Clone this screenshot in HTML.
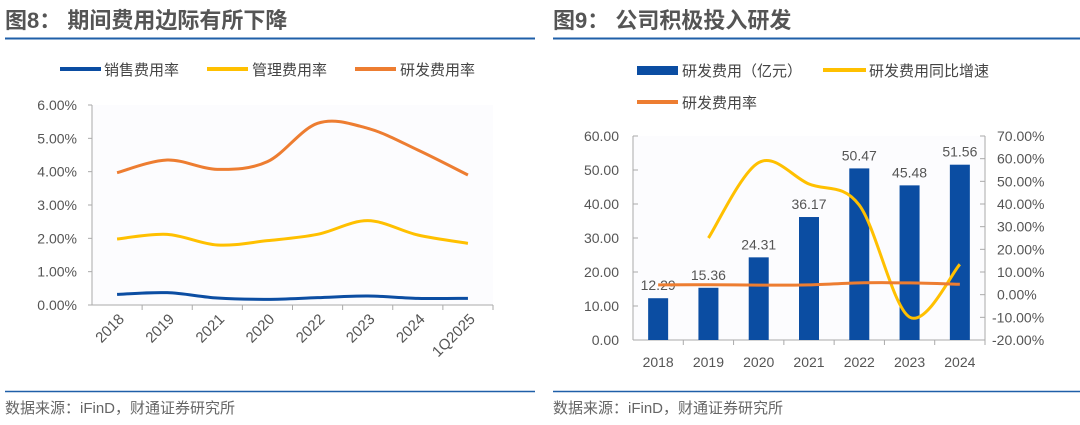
<!DOCTYPE html>
<html><head><meta charset="utf-8"><style>
body{margin:0;background:#fff;width:1080px;height:420px;overflow:hidden;font-family:"Liberation Sans","Noto Sans CJK SC",sans-serif}
svg text{font-family:"Liberation Sans","Noto Sans CJK SC",sans-serif}
</style></head><body>
<svg id="s" width="1080" height="420" xmlns="http://www.w3.org/2000/svg">
<text x="5" y="28" font-size="22" font-weight="bold" fill="#555">图8：  期间费用边际有所下降</text>
<line x1="5" y1="38.5" x2="535" y2="38.5" stroke="#1f5fa8" stroke-width="2"/>
<text x="553" y="28" font-size="22" font-weight="bold" fill="#555">图9：  公司积极投入研发</text>
<line x1="553" y1="38.5" x2="1080" y2="38.5" stroke="#1f5fa8" stroke-width="2"/>
<line x1="5" y1="391.5" x2="535" y2="391.5" stroke="#1f5fa8" stroke-width="1.5"/>
<line x1="553" y1="391.5" x2="1080" y2="391.5" stroke="#1f5fa8" stroke-width="1.5"/>
<text x="5" y="413" font-size="15" fill="#666">数据来源：iFinD，财通证券研究所</text>
<text x="553" y="413" font-size="15" fill="#666">数据来源：iFinD，财通证券研究所</text>
<g>
<line x1="60" y1="69" x2="101" y2="69" stroke="#0b4da2" stroke-width="4"/><text x="104" y="75" font-size="15" fill="#444">销售费用率</text>
<line x1="207" y1="69" x2="248" y2="69" stroke="#ffc000" stroke-width="4"/><text x="252" y="75" font-size="15" fill="#444">管理费用率</text>
<line x1="355" y1="69" x2="396" y2="69" stroke="#ed7d31" stroke-width="4"/><text x="400" y="75" font-size="15" fill="#444">研发费用率</text>
</g>
<g>
<rect x="637" y="66" width="41" height="9" fill="#0b4da2"/><text x="682" y="76" font-size="15" fill="#444">研发费用（亿元）</text>
<line x1="823" y1="70" x2="866" y2="70" stroke="#ffc000" stroke-width="4"/><text x="869" y="76" font-size="15" fill="#444">研发费用同比增速</text>
<line x1="637" y1="102" x2="678" y2="102" stroke="#ed7d31" stroke-width="4"/><text x="682" y="108" font-size="15" fill="#444">研发费用率</text>
</g>
<g id="L"></g><g id="R"></g>
</svg>
<script>
const lCats=["2018","2019","2021","2020","2022","2023","2024","1Q2025"];
const salesRate=[0.32,0.37,0.21,0.17,0.22,0.27,0.2,0.2];
const adminRate=[1.98,2.12,1.8,1.93,2.12,2.53,2.1,1.85];
const rdRate=[3.97,4.35,4.07,4.3,5.45,5.3,4.65,3.9];
const lTicks=[0,1,2,3,4,5,6];
const rCats=["2018","2019","2020","2021","2022","2023","2024"];
const rdExp=[12.29,15.36,24.31,36.17,50.47,45.48,51.56];
const rdGrowth=[null,25,58.3,48.8,39.5,-9.9,13.4];
const rdRate2=[4.3,4.4,4.2,4.3,5.2,5.2,4.6];
const rLeftTicks=[0,10,20,30,40,50,60];
const rRightTicks=[-20,-10,0,10,20,30,40,50,60,70];
const NS="http://www.w3.org/2000/svg";
function mk(p,t,a,txt){const e=document.createElementNS(NS,t);for(const k in a)e.setAttribute(k,a[k]);if(txt!=null)e.textContent=txt;p.appendChild(e);return e;}
function smooth(pts){let d=`M${pts[0][0]},${pts[0][1]}`;for(let i=0;i<pts.length-1;i++){const p0=pts[i-1]||pts[i],p1=pts[i],p2=pts[i+1],p3=pts[i+2]||p2;const t=1/6;d+=` C${p1[0]+(p2[0]-p0[0])*t},${p1[1]+(p2[1]-p0[1])*t} ${p2[0]-(p3[0]-p1[0])*t},${p2[1]-(p3[1]-p1[1])*t} ${p2[0]},${p2[1]}`;}return d;}
// left chart
const L=document.getElementById('L');
const lx0=92,lx1=493,ly0=305,ly1=105;
const lstep=(lx1-lx0)/lCats.length;
const lX=i=>lx0+lstep*(i+0.5);
const lY=v=>ly0-(v/6)*(ly0-ly1);
mk(L,'rect',{x:lx0,y:ly1,width:lx1-lx0,height:ly0-ly1,fill:'#fcfcfe'});
let e=mk(L,'line',{x1:lx0,y1:ly1,x2:lx0,y2:ly0,stroke:'#aaa'});


e=mk(L,'line',{x1:lx0,y1:ly0,x2:lx1,y2:ly0,stroke:'#aaa'});


lTicks.forEach(t=>{const y=lY(t);mk(L,'line',{x1:lx0-4,y1:y,x2:lx0,y2:y,stroke:'#aaa'});e=mk(L,'text',{x:lx0-15,y:y+5,'font-size':14,fill:'#555','text-anchor':'end'},t.toFixed(2)+'%');

});
lCats.forEach((c,i)=>{const tx=lx0+lstep*(i+1);mk(L,'line',{x1:tx,y1:ly0,x2:tx,y2:ly0+5,stroke:'#aaa'});const x=lX(i)+8,y=ly0+15;e=mk(L,'text',{x:x,y:y,'font-size':15,fill:'#555','text-anchor':'end',transform:`rotate(-45 ${x} ${y})`},c);

});
[[salesRate,'#0b4da2','sales-rate-line'],[adminRate,'#ffc000','admin-rate-line'],[rdRate,'#ed7d31','rd-rate-line']].forEach(([arr,col,n])=>{e=mk(L,'path',{d:smooth(arr.map((v,i)=>[lX(i),lY(v)])),fill:'none',stroke:col,'stroke-width':3});

});
// right chart
const R=document.getElementById('R');
const rx0=633,rx1=985,ry0=340,ry1=136;
const rstep=(rx1-rx0)/rCats.length;
const rX=i=>rx0+rstep*(i+0.5);
const rY=v=>ry0-(v/60)*(ry0-ry1);
const rY2=v=>ry0-((v+20)/90)*(ry0-ry1);
mk(R,'rect',{x:rx0,y:ry1,width:rx1-rx0,height:ry0-ry1,fill:'#fcfcfe'});
e=mk(R,'line',{x1:rx0,y1:ry1,x2:rx0,y2:ry0,stroke:'#aaa'});


e=mk(R,'line',{x1:rx1,y1:ry1,x2:rx1,y2:ry0,stroke:'#aaa'});


e=mk(R,'line',{x1:rx0,y1:ry0,x2:rx1,y2:ry0,stroke:'#aaa'});


rLeftTicks.forEach(t=>{const y=rY(t);mk(R,'line',{x1:rx0,y1:y,x2:rx0+5,y2:y,stroke:'#aaa'});e=mk(R,'text',{x:rx0-14,y:y+5,'font-size':14,fill:'#555','text-anchor':'end'},t.toFixed(2));

});
rRightTicks.forEach(t=>{const y=rY2(t);mk(R,'line',{x1:rx1-5,y1:y,x2:rx1,y2:y,stroke:'#aaa'});e=mk(R,'text',{x:t<0?rx1+7:rx1+12,y:y+5,'font-size':14,fill:'#555','text-anchor':'start'},t.toFixed(2)+'%');

});
rCats.forEach((c,i)=>{const tx=rx0+rstep*(i+1);mk(R,'line',{x1:tx,y1:ry0,x2:tx,y2:ry0+5,stroke:'#aaa'});e=mk(R,'text',{x:rX(i),y:ry0+27,'font-size':14,fill:'#555','text-anchor':'middle'},c);

});
rdExp.forEach((v,i)=>{e=mk(R,'rect',{x:rX(i)-10,y:rY(v),width:20,height:ry0-rY(v),fill:'#0b4da2'});


e=mk(R,'text',{x:rX(i),y:rY(v)-8,'font-size':14,fill:'#555','text-anchor':'middle'},v.toFixed(2));

});
const gp=[];rdGrowth.forEach((v,i)=>{if(v!=null)gp.push([rX(i),rY2(v)]);});
e=mk(R,'path',{d:smooth(gp),fill:'none',stroke:'#ffc000','stroke-width':3});


e=mk(R,'path',{d:smooth(rdRate2.map((v,i)=>[rX(i),rY2(v)])),fill:'none',stroke:'#ed7d31','stroke-width':3});


</script>
</body></html>
